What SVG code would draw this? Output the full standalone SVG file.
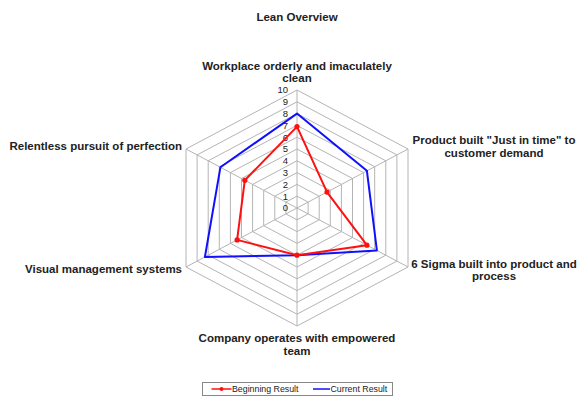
<svg xmlns="http://www.w3.org/2000/svg" width="577" height="396" viewBox="0 0 577 396">
<style>
text{font-family:"Liberation Sans",Arial,sans-serif;fill:#222}
.t{font-weight:bold;font-size:11.5px}
.lb{font-weight:bold;font-size:11.5px}
.n{font-size:9.5px;fill:#444}
.lg{font-size:8.8px}
.grid{fill:none;stroke:#b4b4b4;stroke-width:1}
.beg{fill:none;stroke:#ff1010;stroke-width:2;stroke-linejoin:round}
.cur{fill:none;stroke:#1010ff;stroke-width:2;stroke-linejoin:round}
</style>
<defs>
<marker id="dot" viewBox="0 0 6 6" refX="3" refY="3" markerWidth="6" markerHeight="6" markerUnits="userSpaceOnUse"><circle cx="3" cy="3" r="2.6" fill="#ff1010"/></marker>
</defs>
<rect width="577" height="396" fill="#fff"/>
<text class="t" x="297" y="21" text-anchor="middle">Lean Overview</text>
<g id="grid" class="grid">
<polygon points="297,196.2 308.1,202.1 308.1,213.9 297,219.8 285.9,213.9 285.9,202.1"/>
<polygon points="297,184.4 319.2,196.2 319.2,219.8 297,231.6 274.8,219.8 274.8,196.2"/>
<polygon points="297,172.6 330.3,190.3 330.3,225.7 297,243.4 263.7,225.7 263.7,190.3"/>
<polygon points="297,160.8 341.4,184.4 341.4,231.6 297,255.2 252.6,231.6 252.6,184.4"/>
<polygon points="297,149 352.5,178.5 352.5,237.5 297,267 241.5,237.5 241.5,178.5"/>
<polygon points="297,137.2 363.6,172.6 363.6,243.4 297,278.8 230.4,243.4 230.4,172.6"/>
<polygon points="297,125.4 374.7,166.7 374.7,249.3 297,290.6 219.3,249.3 219.3,166.7"/>
<polygon points="297,113.6 385.8,160.8 385.8,255.2 297,302.4 208.2,255.2 208.2,160.8"/>
<polygon points="297,101.8 396.9,154.9 396.9,261.1 297,314.2 197.1,261.1 197.1,154.9"/>
<polygon points="297,90 408,149 408,267 297,326 186,267 186,149"/>
<path d="M297,208V90M297,208L408,149M297,208L408,267M297,208V326M297,208L186,267M297,208L186,149"/>
</g>
<g id="scale" class="n" text-anchor="end">
<text x="288" y="211.3">0</text>
<text x="288" y="199.5">1</text>
<text x="288" y="187.7">2</text>
<text x="288" y="175.9">3</text>
<text x="288" y="164.1">4</text>
<text x="288" y="152.3">5</text>
<text x="288" y="140.5">6</text>
<text x="288" y="128.7">7</text>
<text x="288" y="116.9">8</text>
<text x="288" y="105.1">9</text>
<text x="288" y="93.3">10</text>
</g>
<g id="series">
<polygon id="current" class="cur" points="297,113.6 366.9,170.8 376.9,250.5 297,255.2 204.9,257 220.4,167.3"/>
<polygon id="beginning" class="beg" points="297,126.6 327,192.1 366.9,245.2 297,255.2 237.1,239.9 244.8,180.3" marker-start="url(#dot)" marker-mid="url(#dot)"/>
</g>
<g id="label-top"><text class="lb" x="297" y="70" text-anchor="middle">Workplace orderly and imaculately</text><text class="lb" x="297" y="82" text-anchor="middle">clean</text></g>
<g id="label-ur"><text class="lb" x="494" y="144" text-anchor="middle">Product built "Just in time" to</text><text class="lb" x="494" y="156.5" text-anchor="middle">customer demand</text></g>
<g id="label-lr"><text class="lb" x="494" y="268" text-anchor="middle">6 Sigma built into product and</text><text class="lb" x="494" y="280" text-anchor="middle">process</text></g>
<g id="label-bottom"><text class="lb" x="297" y="342" text-anchor="middle">Company operates with empowered</text><text class="lb" x="297" y="354.5" text-anchor="middle">team</text></g>
<g id="label-ll"><text class="lb" x="182" y="273" text-anchor="end">Visual management systems</text></g>
<g id="label-ul"><text class="lb" x="182" y="150" text-anchor="end">Relentless pursuit of perfection</text></g>
<g id="legend">
<rect x="202.5" y="382.5" width="190" height="13" fill="#fff" stroke="#888" stroke-width="1"/>
<line x1="211.5" y1="389" x2="231.5" y2="389" stroke="#ff1010" stroke-width="1.5"/>
<circle cx="221.5" cy="389" r="2" fill="#ff1010"/>
<text class="lg" x="232" y="392">Beginning Result</text>
<line x1="313" y1="389" x2="330" y2="389" stroke="#1010ff" stroke-width="1.5"/>
<text class="lg" x="330.5" y="392">Current Result</text>
</g>
</svg>
